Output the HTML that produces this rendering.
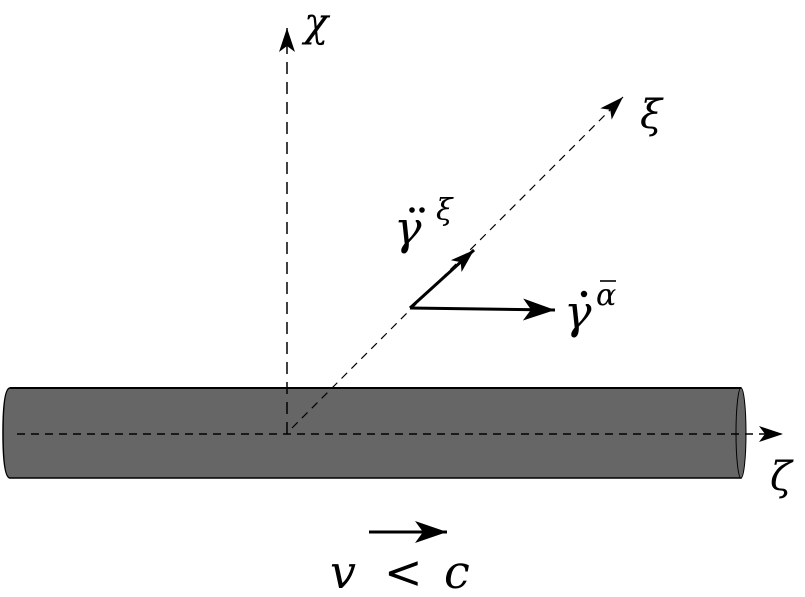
<!DOCTYPE html>
<html><head><style>
html,body{margin:0;padding:0;background:#fff;}
svg{display:block;}
text{font-family:"DejaVu Serif","Liberation Serif",serif;font-style:italic;fill:#000;}
</style></head><body>
<svg width="805" height="597" viewBox="0 0 805 597" xmlns="http://www.w3.org/2000/svg">
<defs>
<marker id="ah" viewBox="0 0 24 16" refX="24" refY="8" markerWidth="24" markerHeight="16" markerUnits="userSpaceOnUse" orient="auto">
<path d="M0,0 L24,8 L0,16 L6,8 Z" fill="#000"/>
</marker>
<marker id="ah2" viewBox="0 0 32 22" refX="32" refY="11" markerWidth="32" markerHeight="22" markerUnits="userSpaceOnUse" orient="auto">
<path d="M0,0 L32,11 L0,22 L8,11 Z" fill="#000"/>
</marker>
</defs>
<path d="M10,388 L741,388 L741,478 L10,478 Q3,478 3,433 Q3,388 10,388 Z" fill="#666" stroke="#000" stroke-width="1.5"/>
<line x1="10" y1="388" x2="741" y2="388" stroke="#000" stroke-width="2"/>
<ellipse cx="741" cy="433" rx="5" ry="45" fill="#666" stroke="#000" stroke-width="1"/>
<line x1="17" y1="434" x2="783" y2="434" stroke="#000" stroke-width="1.5" stroke-dasharray="8,6" marker-end="url(#ah)"/>
<line x1="287" y1="434" x2="287" y2="28" stroke="#000" stroke-width="1.5" stroke-dasharray="12,8" marker-end="url(#ah)"/>
<line x1="292" y1="428" x2="623" y2="97" stroke="#000" stroke-width="1.2" stroke-dasharray="8,6" marker-end="url(#ah)"/>
<line x1="410" y1="308" x2="555" y2="310" stroke="#000" stroke-width="3" marker-end="url(#ah2)"/>
<line x1="410" y1="308" x2="474" y2="250" stroke="#000" stroke-width="3" marker-end="url(#ah)"/>
<line x1="369" y1="532" x2="447" y2="532" stroke="#000" stroke-width="3" marker-end="url(#ah2)"/>
<text x="304" y="36" font-size="40">χ</text>
<text x="640" y="128" font-size="40">ξ</text>
<text x="770" y="490" font-size="40">ζ</text>
<text x="394" y="244" font-size="46">γ</text>
<circle cx="412" cy="210" r="2.8"/><circle cx="422" cy="210" r="2.8"/>
<text x="436" y="220" font-size="30">ξ</text>
<text x="564" y="328" font-size="46">γ</text>
<circle cx="584" cy="294" r="3.2"/>
<text x="596" y="305" font-size="30">α</text>
<line x1="600" y1="281" x2="616" y2="281" stroke="#000" stroke-width="1.6"/>
<text x="330" y="588" font-size="46">v</text>
<text x="384" y="588" font-size="46" style="font-style:normal">&lt;</text>
<text x="444" y="588" font-size="46">c</text>
</svg>
</body></html>
